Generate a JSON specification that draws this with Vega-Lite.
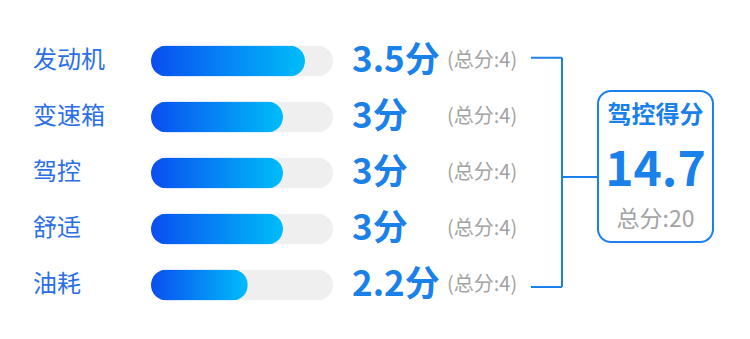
{
  "$schema": "https://vega.github.io/schema/vega-lite/v6.json",
  "width": 750,
  "height": 339,
  "autosize": "none",
  "padding": 0,
  "background": "white",
  "config": {"view": {"stroke": null}, "font": "Noto Sans CJK SC"},
  "datasets": {
    "rows": [
      {"item": "发动机", "score": 3.5, "total": 4},
      {"item": "变速箱", "score": 3, "total": 4},
      {"item": "驾控", "score": 3, "total": 4},
      {"item": "舒适", "score": 3, "total": 4},
      {"item": "油耗", "score": 2.2, "total": 4}
    ],
    "summary": [{"title": "驾控得分", "score": 14.7, "total": 20}]
  },
  "resolve": {"scale": {"x": "independent"}},
  "layer": [
    {
      "data": {"name": "rows"},
      "transform": [
        {"window": [{"op": "row_number", "as": "row"}]}
      ],
      "mark": {"type": "bar", "orient": "horizontal", "size": 31, "cornerRadius": 15.5, "fill": "#efefef"},
      "encoding": {
        "y": {"field": "row", "type": "quantitative", "scale": {"domain": [-0.0893, 5.9643], "reverse": true, "nice": false, "zero": false, "padding": 0}, "axis": null},
        "x": {"field": "total", "type": "quantitative", "scale": {"domain": [-3.3187, 13.1648], "nice": false, "zero": false, "padding": 0}, "axis": null}
      }
    },
    {
      "data": {"name": "rows"},
      "transform": [
        {"window": [{"op": "row_number", "as": "row"}]},
        {"calculate": "datum.score + '分'", "as": "scoreText"},
        {"calculate": "'(总分:' + datum.total + ')'", "as": "totalText"}
      ],
      "encoding": {
        "y": {"field": "row", "type": "quantitative", "scale": {"domain": [-0.0893, 5.9643], "reverse": true, "nice": false, "zero": false, "padding": 0}, "axis": null}
      },
      "layer": [
        {
          "mark": {"type": "text", "align": "left", "baseline": "middle", "fontSize": 24, "color": "#2a6fe6"},
          "encoding": {
            "x": {"datum": -2.682, "type": "quantitative", "scale": {"domain": [-3.4318, 13.6136], "nice": false, "zero": false, "padding": 0}, "axis": null},
            "text": {"field": "item"}
          }
        },
        {
          "mark": {"type": "bar", "orient": "horizontal", "size": 31, "cornerRadius": 15.5,
            "fill": {"gradient": "linear", "x1": 0, "x2": 1, "y1": 0, "y2": 0, "stops": [{"offset": 0, "color": "#0a4ef0"}, {"offset": 1, "color": "#00bdf9"}]}},
          "encoding": {
            "x": {"field": "score", "type": "quantitative"}
          }
        },
        {
          "mark": {"type": "text", "align": "left", "baseline": "middle", "fontSize": 35, "fontWeight": "bold", "color": "#1a80ea"},
          "encoding": {
            "x": {"datum": 4.568, "type": "quantitative"},
            "text": {"field": "scoreText"}
          }
        },
        {
          "mark": {"type": "text", "align": "left", "baseline": "middle", "fontSize": 20, "color": "#a3a3a3"},
          "encoding": {
            "x": {"datum": 6.727, "type": "quantitative"},
            "text": {"field": "totalText"}
          }
        }
      ]
    },
    {
      "data": {"name": "summary"},
      "transform": [
        {"calculate": "'总分:' + datum.total", "as": "totalText"}
      ],
      "layer": [
        {
          "mark": {"type": "rule", "strokeWidth": 2, "color": "#1a80ea"},
          "encoding": {"x": {"datum": 8.636, "type": "quantitative", "scale": {"domain": [-3.4318, 13.6136], "nice": false, "zero": false, "padding": 0}, "axis": null}, "x2": {"datum": 9.341}, "y": {"datum": 0.94, "type": "quantitative"}}
        },
        {
          "mark": {"type": "rule", "strokeWidth": 2, "color": "#1a80ea"},
          "encoding": {"x": {"datum": 8.636, "type": "quantitative"}, "x2": {"datum": 9.341}, "y": {"datum": 5.036, "type": "quantitative"}}
        },
        {
          "mark": {"type": "rule", "strokeWidth": 2, "color": "#1a80ea"},
          "encoding": {"x": {"datum": 9.341, "type": "quantitative"}, "y": {"datum": 0.94, "type": "quantitative"}, "y2": {"datum": 5.036}}
        },
        {
          "mark": {"type": "rule", "strokeWidth": 2, "color": "#1a80ea"},
          "encoding": {"x": {"datum": 9.341, "type": "quantitative"}, "x2": {"datum": 10.159}, "y": {"datum": 3.07, "type": "quantitative"}}
        },
        {
          "mark": {"type": "rect", "fill": "white", "stroke": "#1a80ea", "strokeWidth": 2, "cornerRadius": 13},
          "encoding": {"x": {"datum": 10.159, "type": "quantitative"}, "x2": {"datum": 12.773}, "y": {"datum": 1.536, "type": "quantitative"}, "y2": {"datum": 4.232}}
        },
        {
          "mark": {"type": "text", "align": "center", "baseline": "middle", "fontSize": 24, "fontWeight": "bold", "color": "#1a80ea"},
          "encoding": {"x": {"datum": 11.466, "type": "quantitative"}, "y": {"datum": 1.99, "type": "quantitative"}, "text": {"field": "title"}}
        },
        {
          "mark": {"type": "text", "align": "center", "baseline": "middle", "fontSize": 48, "fontWeight": "bold", "color": "#1a80ea"},
          "encoding": {"x": {"datum": 11.466, "type": "quantitative"}, "y": {"datum": 2.98, "type": "quantitative"}, "text": {"field": "score"}}
        },
        {
          "mark": {"type": "text", "align": "center", "baseline": "middle", "fontSize": 23, "color": "#a3a3a3"},
          "encoding": {"x": {"datum": 11.466, "type": "quantitative"}, "y": {"datum": 3.84, "type": "quantitative"}, "text": {"field": "totalText"}}
        }
      ]
    }
  ]
}
